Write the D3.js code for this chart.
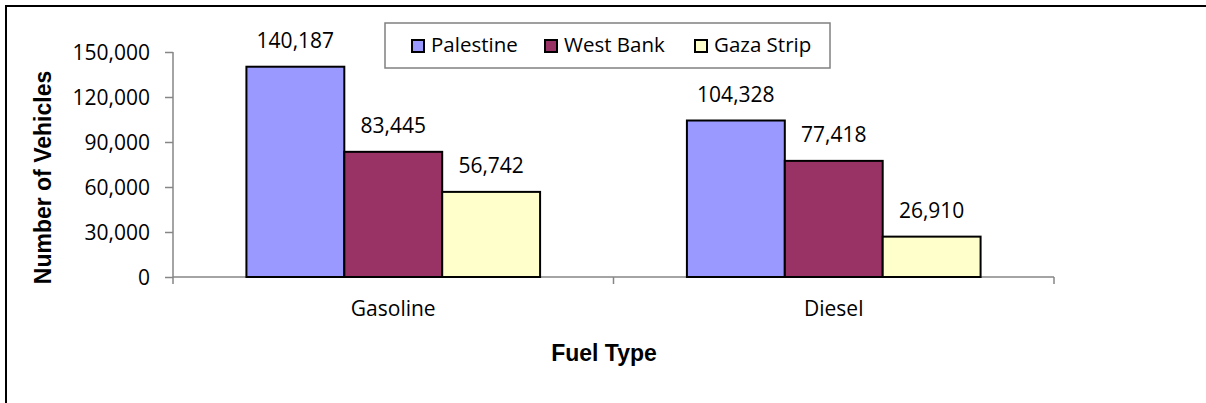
<!DOCTYPE html>
<html>
<head>
<meta charset="utf-8">
<script src="https://cdn.jsdelivr.net/npm/d3@7"></script>
<style>
  body { margin: 0; background: #fff; }
  svg text { font-family: "Open Sans", sans-serif; fill: #000; }
</style>
</head>
<body>
<div id="chart"></div>
<script>
// data
const categories = ["Gasoline", "Diesel"];
const seriesNames = ["Palestine", "West Bank", "Gaza Strip"];
const palestine = [140187, 104328];
const westBank = [83445, 77418];
const gaza = [56742, 26910];
const yTicks = [0, 30000, 60000, 90000, 120000, 150000];
const colors = ["#9999FF", "#993366", "#FFFFCC"];

const width = 1206, height = 403;
const plotLeft = 173, plotRight = 1054, plotTop = 52, plotBottom = 277;
const labelSize = "21px";

const svg = d3.select("#chart").append("svg")
  .attr("width", width)
  .attr("height", height);

// outer frame (right and bottom run off the picture)
svg.append("rect")
  .attr("x", 6).attr("y", 6)
  .attr("width", 1220).attr("height", 420)
  .attr("fill", "none").attr("stroke", "#000").attr("stroke-width", 2);

const x0 = d3.scaleBand().domain(categories).range([plotLeft, plotRight]);
// gap width 150% -> 3 bars + 1.5 bar gap per category
const x1 = d3.scaleBand().domain(seriesNames)
  .range([x0.bandwidth() * 0.75 / 4.5, x0.bandwidth() - x0.bandwidth() * 0.75 / 4.5]);
const y = d3.scaleLinear().domain([0, 150000]).range([plotBottom, plotTop]);

const rows = categories.map((c, i) => ({
  cat: c,
  vals: [palestine[i], westBank[i], gaza[i]]
}));

// y axis
const yAxis = svg.append("g")
  .attr("transform", `translate(${plotLeft},0)`)
  .call(d3.axisLeft(y).tickValues(yTicks).tickSize(8).tickPadding(15)
    .tickFormat(d3.format(",")));
yAxis.selectAll("path, line").attr("stroke", "#868686").attr("stroke-width", 1.5);
yAxis.select(".domain").attr("d", `M0,${plotTop}V${plotBottom}`);
yAxis.selectAll("text").style("font-size", labelSize).attr("dy", "0.36em");

// x axis with ticks between categories
const xAxis = svg.append("g")
  .attr("transform", `translate(0,${plotBottom})`);
xAxis.append("line")
  .attr("x1", plotLeft).attr("x2", plotRight)
  .attr("stroke", "#868686").attr("stroke-width", 1.5);
xAxis.selectAll("line.tk")
  .data([plotLeft, plotLeft + x0.step(), plotRight])
  .enter().append("line")
  .attr("class", "tk")
  .attr("x1", d => d).attr("x2", d => d)
  .attr("y1", 0).attr("y2", 7)
  .attr("stroke", "#868686").attr("stroke-width", 1.5);
xAxis.selectAll("text")
  .data(categories)
  .enter().append("text")
  .attr("x", d => x0(d) + x0.bandwidth() / 2)
  .attr("y", 39)
  .attr("text-anchor", "middle")
  .style("font-size", labelSize)
  .text(d => d);

// bars
const groups = svg.selectAll("g.cat")
  .data(rows)
  .enter().append("g")
  .attr("class", "cat")
  .attr("transform", d => `translate(${x0(d.cat)},0)`);

groups.selectAll("rect")
  .data(d => d.vals.map((v, j) => ({ name: seriesNames[j], v: v, j: j })))
  .enter().append("rect")
  .attr("x", d => x1(d.name))
  .attr("y", d => y(d.v))
  .attr("width", x1.bandwidth())
  .attr("height", d => plotBottom - y(d.v))
  .attr("fill", d => colors[d.j])
  .attr("stroke", "#000")
  .attr("stroke-width", 2);

groups.selectAll("text.val")
  .data(d => d.vals.map((v, j) => ({ name: seriesNames[j], v: v })))
  .enter().append("text")
  .attr("class", "val")
  .attr("x", d => x1(d.name) + x1.bandwidth() / 2)
  .attr("y", d => y(d.v) - 19)
  .attr("text-anchor", "middle")
  .style("font-size", labelSize)
  .text(d => d3.format(",")(d.v));

// axis titles
svg.append("text")
  .attr("transform", `translate(51,${(plotTop + plotBottom) / 2 + 13}) rotate(-90)`)
  .attr("text-anchor", "middle")
  .style("font-family", "'Liberation Sans', Arial, sans-serif")
  .style("font-weight", "bold")
  .style("font-size", "23px")
  .text("Number of Vehicles");

svg.append("text")
  .attr("x", 604)
  .attr("y", 361)
  .attr("text-anchor", "middle")
  .style("font-family", "'Liberation Sans', Arial, sans-serif")
  .style("font-weight", "bold")
  .style("font-size", "23px")
  .text("Fuel Type");

// legend
const legend = svg.append("g");
legend.append("rect")
  .attr("x", 385).attr("y", 23)
  .attr("width", 445).attr("height", 45)
  .attr("fill", "#fff").attr("stroke", "#808080").attr("stroke-width", 1.5);

const legX = [412, 545, 695];
const item = legend.selectAll("g.item")
  .data(seriesNames)
  .enter().append("g")
  .attr("class", "item")
  .attr("transform", (d, i) => `translate(${legX[i]},0)`);
item.append("rect")
  .attr("x", 0).attr("y", 40)
  .attr("width", 12).attr("height", 12)
  .attr("fill", (d, i) => colors[i])
  .attr("stroke", "#000").attr("stroke-width", 2);
item.append("text")
  .attr("x", 19).attr("y", 52)
  .style("font-size", "20.5px")
  .text(d => d);
</script>
</body>
</html>
